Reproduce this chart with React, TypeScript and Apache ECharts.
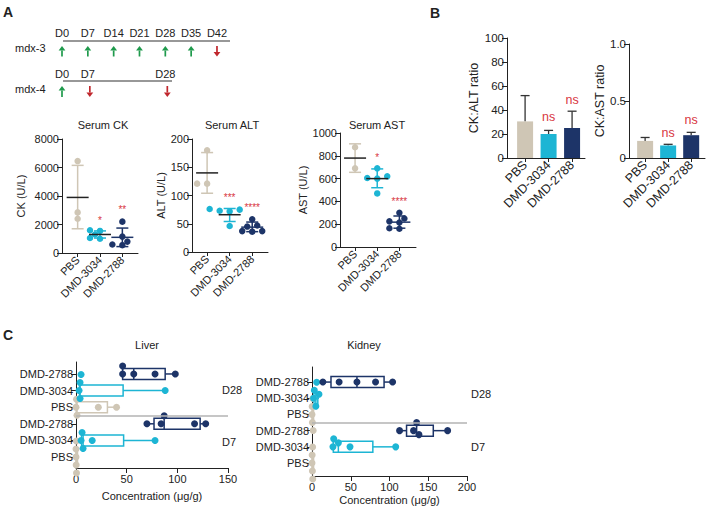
import React, { useEffect, useRef } from 'react';
import * as echarts from 'echarts';

// ---------- data ----------
const groups = ['PBS', 'DMD-3034', 'DMD-2788'];

// timeline (panel A)
const mdx3Days = [0, 7, 14, 21, 28, 35, 42];
const mdx3Dirs = ['up', 'up', 'up', 'up', 'up', 'up', 'down'];
const mdx4Days = [0, 7, 28];
const mdx4Dirs = ['up', 'down', 'down'];

// Serum CK (U/L)
const ckPbs = [6450, 2850, 2400];
const ck3034 = [1600, 1550, 1300, 1000, 1050];
const ck2788 = [2200, 1150, 800, 600, 550];
const ckMean = [3900, 1300, 1100];
const ckSdLow = [1700, 1050, 450];
const ckSdHigh = [6150, 1550, 1750];
const ckSig = ['', '*', '**'];
const ckSigAt = [0, 2300, 3050];

// Serum ALT (U/L)
const altPbs = [180, 121, 121];
const alt3034 = [76, 75, 73, 72, 46];
const alt2788 = [58, 47, 45, 37, 36, 37];
const altMean = [140, 66, 44];
const altSdLow = [104, 54, 36];
const altSdHigh = [176, 77, 53];
const altSig = ['', '***', '****'];
const altSigAt = [0, 96, 79];

// Serum AST (U/L)
const astPbs = [875, 690];
const ast3034 = [690, 620, 600, 605, 470];
const ast2788 = [300, 250, 225, 215, 165, 160];
const astMean = [780, 600, 218];
const astSdLow = [655, 520, 165];
const astSdHigh = [905, 685, 272];
const astSig = ['', '*', '****'];
const astSigAt = [0, 785, 395];

// Panel B ratios
const ckAltRatio = [30.5, 20, 25];
const ckAltErr = [52, 23, 39];
const ckAltSig = ['', 'ns', 'ns'];
const ckAltSigAt = [0, 34, 48];
const ckAstRatio = [0.15, 0.11, 0.2];
const ckAstErr = [0.18, 0.12, 0.225];
const ckAstSig = ['', 'ns', 'ns'];
const ckAstSigAt = [0, 0.22, 0.33];

// Panel C (µg/g), rows top to bottom
const cRows = ['DMD-2788', 'DMD-3034', 'PBS', 'DMD-2788', 'DMD-3034', 'PBS'];
const cRowGroup = [2, 1, 0, 2, 1, 0];
const liverD28_2788 = [46, 46, 57, 78, 98];
const liverD28_3034 = [3, 4, 4, 5, 88];
const liverD28_PBS = [0, 0.5, 1, 22, 40];
const liverD7_2788 = [70, 84, 87, 117, 128];
const liverD7_3034 = [5, 6, 7, 16, 78];
const liverD7_PBS = [0, 0, 0.2, 0.3, 0.5];
const kidneyD28_2788 = [14, 35, 58, 82, 104];
const kidneyD28_3034 = [2, 3, 5, 6, 9];
const kidneyD28_PBS = [0, 0.2, 0.5, 1, 1.5];
const kidneyD7_2788 = [113, 131, 135, 138, 175];
const kidneyD7_3034 = [27, 28, 34, 49, 108];
const kidneyD7_PBS = [0, 0.2, 0.5, 0.8, 1];
const liverRows = [liverD28_2788, liverD28_3034, liverD28_PBS, liverD7_2788, liverD7_3034, liverD7_PBS];
const kidneyRows = [kidneyD28_2788, kidneyD28_3034, kidneyD28_PBS, kidneyD7_2788, kidneyD7_3034, kidneyD7_PBS];

// ---------- styles ----------
const FONT = '"Liberation Sans", Arial, sans-serif';
const TXT = '#222222';
const RED = '#d8373f';
const GREEN = '#1f9a4c';
const DARKRED = '#c0272d';
const groupColors = ['#cfc6b5', '#1db5d4', '#1d3468'];

function swarm(values: number[], pxPerUnit: number, spread: number, diam: number): number[] {
  const order = values.map((_, i) => i).sort((a, b) => values[a] - values[b]);
  const placed: { v: number; o: number }[] = [];
  const offs = new Array(values.length).fill(0);
  const cands = [0, -1, 1, -2, 2, -3, 3, -4, 4].map((k) => k * spread);
  for (const i of order) {
    let chosen = cands[cands.length - 1];
    for (const o of cands) {
      const ok = placed.every((p) => Math.hypot((p.v - values[i]) * pxPerUnit, p.o - o) >= diam);
      if (ok) { chosen = o; break; }
    }
    offs[i] = chosen;
    placed.push({ v: values[i], o: chosen });
  }
  return offs;
}

function quart(vals: number[]) {
  const s = [...vals].sort((a, b) => a - b);
  const n = s.length;
  const q = (p: number) => {
    const pos = (n + 1) * p;
    const lo = Math.floor(pos);
    const f = pos - lo;
    const a = s[Math.max(0, Math.min(n - 1, lo - 1))];
    const b = s[Math.max(0, Math.min(n - 1, lo))];
    return a + f * (b - a);
  };
  return [s[0], q(0.25), q(0.5), q(0.75), s[n - 1]];
}

function txt(x: number, y: number, text: string, o: any = {}) {
  const align = o.align || 'center';
  return {
    type: 'text', x, y, silent: true,
    style: {
      text, fill: o.color || TXT, fontSize: o.size || 11, fontFamily: FONT,
      fontWeight: o.weight || 'normal', textAlign: align, align,
      textVerticalAlign: 'middle', verticalAlign: 'middle',
    },
  };
}

function arrowEls(x: number, y1: number, y2: number, dir: string) {
  const color = dir === 'up' ? GREEN : DARKRED;
  const tipY = dir === 'up' ? y1 : y2;
  const baseY = dir === 'up' ? y1 + 4.5 : y2 - 4.5;
  const tailY = dir === 'up' ? y2 : y1;
  return [
    { type: 'line', silent: true, shape: { x1: x, y1: tailY, x2: x, y2: baseY }, style: { stroke: color, lineWidth: 1.7 } },
    { type: 'polygon', silent: true, shape: { points: [[x, tipY], [x - 3.4, baseY], [x + 3.4, baseY]] }, style: { fill: color } },
  ];
}

const plain = (v: number) => String(v);

function buildOption() {
  const grid: any[] = [];
  const xAxis: any[] = [];
  const yAxis: any[] = [];
  const series: any[] = [];
  const graphic: any[] = [];
  const lineStyle = { color: TXT, width: 1 };
  const labelBase = { fontSize: 11, color: TXT, fontFamily: FONT };

  // ----- panel letters -----
  graphic.push(txt(3, 12, 'A', { size: 14, weight: 'bold', align: 'left' }));
  graphic.push(txt(430, 13, 'B', { size: 14, weight: 'bold', align: 'left' }));
  graphic.push(txt(3, 335, 'C', { size: 14, weight: 'bold', align: 'left' }));

  // ----- timeline -----
  const dayX = (d: number) => 62 + d * 3.69;
  graphic.push(txt(15, 48, 'mdx-3', { align: 'left' }));
  graphic.push({ type: 'line', silent: true, shape: { x1: 63, y1: 41, x2: 230, y2: 41 }, style: { stroke: '#333', lineWidth: 1.2 } });
  mdx3Days.forEach((d, i) => {
    graphic.push(txt(dayX(d), 33, 'D' + d));
    graphic.push(...arrowEls(dayX(d), 46, 56.5, mdx3Dirs[i]));
  });
  graphic.push(txt(15, 89, 'mdx-4', { align: 'left' }));
  graphic.push({ type: 'line', silent: true, shape: { x1: 63, y1: 81, x2: 172, y2: 81 }, style: { stroke: '#333', lineWidth: 1.2 } });
  mdx4Days.forEach((d, i) => {
    graphic.push(txt(dayX(d), 74, 'D' + d));
    graphic.push(...arrowEls(dayX(d) + (i > 0 ? 2 : 0), 86, 97, mdx4Dirs[i]));
  });

  let gi = 0;

  // ----- dot plots -----
  const dotPanels = [
    { box: { left: 62, top: 139, width: 76, height: 114 }, xMin: -0.7, xMax: 2.7, yMax: 8000, yInt: 2000, yName: 'CK (U/L)', gap: 36, pts: [ckPbs, ck3034, ck2788], mean: ckMean, lo: ckSdLow, hi: ckSdHigh, sig: ckSig, sigAt: ckSigAt, title: 'Serum CK', tx: 103 },
    { box: { left: 192, top: 139, width: 76, height: 113 }, xMin: -0.67, xMax: 2.7, yMax: 200, yInt: 50, yName: 'ALT (U/L)', gap: 24, pts: [altPbs, alt3034, alt2788], mean: altMean, lo: altSdLow, hi: altSdHigh, sig: altSig, sigAt: altSigAt, title: 'Serum ALT', tx: 232 },
    { box: { left: 340, top: 133, width: 76, height: 114 }, xMin: -0.68, xMax: 2.75, yMax: 1000, yInt: 200, yName: 'AST (U/L)', gap: 27, pts: [astPbs, ast3034, ast2788], mean: astMean, lo: astSdLow, hi: astSdHigh, sig: astSig, sigAt: astSigAt, title: 'Serum AST', tx: 377 },
  ];
  dotPanels.forEach((p) => {
    const idx = gi++;
    grid.push({ ...p.box, containLabel: false, outerBoundsMode: 'none' });
    xAxis.push({
      gridIndex: idx, type: 'value', min: p.xMin, max: p.xMax,
      axisLine: { show: true, onZero: false, lineStyle },
      axisTick: { show: true, customValues: [0, 1, 2], length: 4, lineStyle },
      axisLabel: { ...labelBase, customValues: [0, 1, 2], formatter: (v: number) => groups[Math.round(v)], rotate: 45, margin: 5, hideOverlap: false },
      splitLine: { show: false },
    });
    yAxis.push({
      gridIndex: idx, type: 'value', min: 0, max: p.yMax, interval: p.yInt,
      axisLine: { show: true, onZero: false, lineStyle },
      axisTick: { show: true, length: 5, lineStyle },
      axisLabel: { ...labelBase, margin: 3, formatter: plain },
      splitLine: { show: false },
      name: p.yName, nameLocation: 'middle', nameGap: p.gap, nameTextStyle: { ...labelBase },
    });
    const catPx = p.box.width / (p.xMax - p.xMin);
    const pxPerUnit = p.box.height / p.yMax;
    p.pts.forEach((vals, g) => {
      const offs = swarm(vals, pxPerUnit, 5, 6);
      series.push({
        type: 'scatter', xAxisIndex: idx, yAxisIndex: idx, symbolSize: 6.5, z: 2,
        itemStyle: { color: groupColors[g], opacity: 1 },
        data: vals.map((v, i) => [g + offs[i] / catPx, v]),
        silent: true,
      });
    });
    series.push({
      type: 'custom', xAxisIndex: idx, yAxisIndex: idx, z: 3, silent: true, clip: false,
      data: groups.map((_, g) => [g, p.mean[g], p.lo[g], p.hi[g]]),
      renderItem: (params: any, api: any) => {
        const g = api.value(0);
        const cm = api.coord([g, api.value(1)]);
        const cl = api.coord([g, api.value(2)]);
        const ch = api.coord([g, api.value(3)]);
        const col = groupColors[g];
        const sdStyle = { stroke: col, lineWidth: 1.5 };
        return {
          type: 'group', children: [
            { type: 'line', shape: { x1: cl[0], y1: cl[1], x2: ch[0], y2: ch[1] }, style: sdStyle },
            { type: 'line', shape: { x1: cl[0] - 6, y1: cl[1], x2: cl[0] + 6, y2: cl[1] }, style: sdStyle },
            { type: 'line', shape: { x1: ch[0] - 6, y1: ch[1], x2: ch[0] + 6, y2: ch[1] }, style: sdStyle },
            { type: 'line', shape: { x1: cm[0] - 11, y1: cm[1], x2: cm[0] + 11, y2: cm[1] }, style: { stroke: g === 2 ? col : '#222', lineWidth: 1.5 } },
          ],
        };
      },
    });
    series.push({
      type: 'custom', xAxisIndex: idx, yAxisIndex: idx, z: 4, silent: true, clip: false,
      data: groups.map((_, g) => [g, p.sigAt[g]]),
      renderItem: (params: any, api: any) => {
        const t = p.sig[params.dataIndex];
        if (!t) return null;
        const c = api.coord([api.value(0), api.value(1)]);
        return { type: 'text', x: c[0], y: c[1], style: { text: t, fill: RED, fontSize: 10, fontFamily: FONT, align: 'center', verticalAlign: 'middle' } };
      },
    });
    graphic.push(txt(p.tx, 125, p.title));
  });

  // ----- bar panels -----
  const barPanels = [
    { box: { left: 507, top: 38, width: 78, height: 120 }, xMin: -0.77, xMax: 2.55, yMax: 100, yInt: 20, yName: 'CK:ALT ratio', gap: 22, vals: ckAltRatio, err: ckAltErr, sig: ckAltSig, sigAt: ckAltSigAt, fmt: plain },
    { box: { left: 629, top: 44, width: 76, height: 114 }, xMin: -0.7, xMax: 2.6, yMax: 1, yInt: 0.5, yName: 'CK:AST ratio', gap: 21, vals: ckAstRatio, err: ckAstErr, sig: ckAstSig, sigAt: ckAstSigAt, fmt: (v: number) => (v === 0 ? '0' : v.toFixed(1)) },
  ];
  barPanels.forEach((p) => {
    const idx = gi++;
    grid.push({ ...p.box, containLabel: false, outerBoundsMode: 'none' });
    xAxis.push({
      gridIndex: idx, type: 'value', min: p.xMin, max: p.xMax,
      axisLine: { show: true, onZero: false, lineStyle },
      axisTick: { show: true, customValues: [0, 1, 2], length: 4, lineStyle },
      axisLabel: { ...labelBase, fontSize: 12.5, customValues: [0, 1, 2], formatter: (v: number) => groups[Math.round(v)], rotate: 45, margin: 5, hideOverlap: false },
      splitLine: { show: false },
    });
    yAxis.push({
      gridIndex: idx, type: 'value', min: 0, max: p.yMax, interval: p.yInt,
      axisLine: { show: true, onZero: false, lineStyle },
      axisTick: { show: true, length: 5, lineStyle },
      axisLabel: { ...labelBase, fontSize: 11.5, margin: 3, formatter: p.fmt },
      splitLine: { show: false },
      name: p.yName, nameLocation: 'middle', nameGap: p.gap, nameTextStyle: { ...labelBase, fontSize: 12.5 },
    });
    series.push({
      type: 'custom', xAxisIndex: idx, yAxisIndex: idx, z: 2, silent: true, clip: false,
      data: groups.map((_, g) => [g, p.vals[g], p.err[g]]),
      renderItem: (params: any, api: any) => {
        const g = api.value(0);
        const c0 = api.coord([g, 0]);
        const cv = api.coord([g, api.value(1)]);
        const ce = api.coord([g, api.value(2)]);
        const w = 16;
        const es = { stroke: '#333', lineWidth: 1.3 };
        return {
          type: 'group', children: [
            { type: 'line', shape: { x1: cv[0], y1: cv[1], x2: ce[0], y2: ce[1] }, style: es },
            { type: 'line', shape: { x1: ce[0] - 4.5, y1: ce[1], x2: ce[0] + 4.5, y2: ce[1] }, style: es },
            { type: 'rect', shape: { x: c0[0] - w / 2, y: cv[1], width: w, height: c0[1] - cv[1] }, style: { fill: groupColors[g] } },
          ],
        };
      },
    });
    series.push({
      type: 'custom', xAxisIndex: idx, yAxisIndex: idx, z: 4, silent: true, clip: false,
      data: groups.map((_, g) => [g, p.sigAt[g]]),
      renderItem: (params: any, api: any) => {
        const t = p.sig[params.dataIndex];
        if (!t) return null;
        const c = api.coord([api.value(0), api.value(1)]);
        return { type: 'text', x: c[0], y: c[1], style: { text: t, fill: RED, fontSize: 12.5, fontFamily: FONT, align: 'center', verticalAlign: 'middle' } };
      },
    });
  });

  // ----- box panels -----
  const boxPanels = [
    { box: { left: 76, top: 362, width: 152, height: 106 }, xMax: 150, yMin: -0.72, yMax: 5.66, rows: liverRows, gap: 22, title: 'Liver', tx: 147, dLabelX: 222, d28Y: 390, d7Y: 442 },
    { box: { left: 312, top: 367, width: 155, height: 109 }, xMax: 200, yMin: -0.93, yMax: 5.8, rows: kidneyRows, gap: 18, title: 'Kidney', tx: 364, dLabelX: 471, d28Y: 394, d7Y: 447 },
  ];
  boxPanels.forEach((p) => {
    const idx = gi++;
    grid.push({ ...p.box, containLabel: false, outerBoundsMode: 'none' });
    xAxis.push({
      gridIndex: idx, type: 'value', min: 0, max: p.xMax, interval: 50,
      axisLine: { show: true, onZero: false, lineStyle },
      axisTick: { show: true, length: 5, lineStyle },
      axisLabel: { ...labelBase, margin: 5, formatter: plain },
      splitLine: { show: false },
      name: 'Concentration (μg/g)', nameLocation: 'middle', nameGap: p.gap, nameTextStyle: { ...labelBase },
    });
    yAxis.push({
      gridIndex: idx, type: 'value', min: p.yMin, max: p.yMax, inverse: true,
      axisLine: { show: true, onZero: false, lineStyle },
      axisTick: { show: true, customValues: [0, 1, 2, 3, 4, 5], length: 5, lineStyle },
      axisLabel: { ...labelBase, customValues: [0, 1, 2, 3, 4, 5], formatter: (v: number) => cRows[Math.round(v)], margin: 3 },
      splitLine: { show: false },
    });
    const pxPerUnit = p.box.width / p.xMax;
    const catPx = p.box.height / (p.yMax - p.yMin);
    series.push({
      type: 'custom', xAxisIndex: idx, yAxisIndex: idx, z: 2, silent: true, clip: false,
      data: p.rows.map((vals, r) => [r, ...quart(vals)]),
      renderItem: (params: any, api: any) => {
        const r = api.value(0);
        const xs = [1, 2, 3, 4, 5].map((k) => api.coord([api.value(k), r])[0]);
        const y = api.coord([0, r])[1];
        const h = 11;
        const col = groupColors[cRowGroup[r]];
        const st = { stroke: col, lineWidth: 1.5, fill: 'none' };
        return {
          type: 'group', children: [
            { type: 'line', shape: { x1: xs[0], y1: y, x2: xs[1], y2: y }, style: st },
            { type: 'line', shape: { x1: xs[3], y1: y, x2: xs[4], y2: y }, style: st },
            { type: 'rect', shape: { x: xs[1], y: y - h / 2, width: Math.max(xs[3] - xs[1], 1.5), height: h }, style: st },
            { type: 'line', shape: { x1: xs[2], y1: y - h / 2, x2: xs[2], y2: y + h / 2 }, style: st },
          ],
        };
      },
    });
    [0, 1, 2].forEach((g) => {
      const data: number[][] = [];
      p.rows.forEach((vals, r) => {
        if (cRowGroup[r] !== g) return;
        const offs = swarm(vals, pxPerUnit, 4, 6);
        vals.forEach((v, i) => data.push([v, r + offs[i] / catPx]));
      });
      const s: any = {
        type: 'scatter', xAxisIndex: idx, yAxisIndex: idx, symbolSize: 7, z: 3, silent: true, clip: false,
        itemStyle: { color: groupColors[g], opacity: 1 }, data,
      };
      if (g === 0) {
        s.markLine = {
          silent: true, symbol: 'none', label: { show: false }, animation: false,
          lineStyle: { color: '#b3b3b3', width: 1.5, type: 'solid' },
          data: [{ yAxis: 2.5 }],
        };
      }
      series.push(s);
    });
    graphic.push(txt(p.tx, 345, p.title));
    graphic.push(txt(p.dLabelX, p.d28Y, 'D28', { align: 'left' }));
    graphic.push(txt(p.dLabelX, p.d7Y, 'D7', { align: 'left' }));
  });

  return {
    animation: false,
    backgroundColor: '#ffffff',
    textStyle: { fontFamily: FONT },
    grid, xAxis, yAxis, series, graphic,
  };
}

export default function App() {
  const ref = useRef<HTMLDivElement>(null);
  useEffect(() => {
    const chart = echarts.init(ref.current as HTMLDivElement, null, { renderer: 'svg' });
    chart.setOption(buildOption() as any);
    return () => chart.dispose();
  }, []);
  return <div ref={ref} style={{ position: 'fixed', left: 0, top: 0, width: 709, height: 509, background: '#fff' }} />;
}
